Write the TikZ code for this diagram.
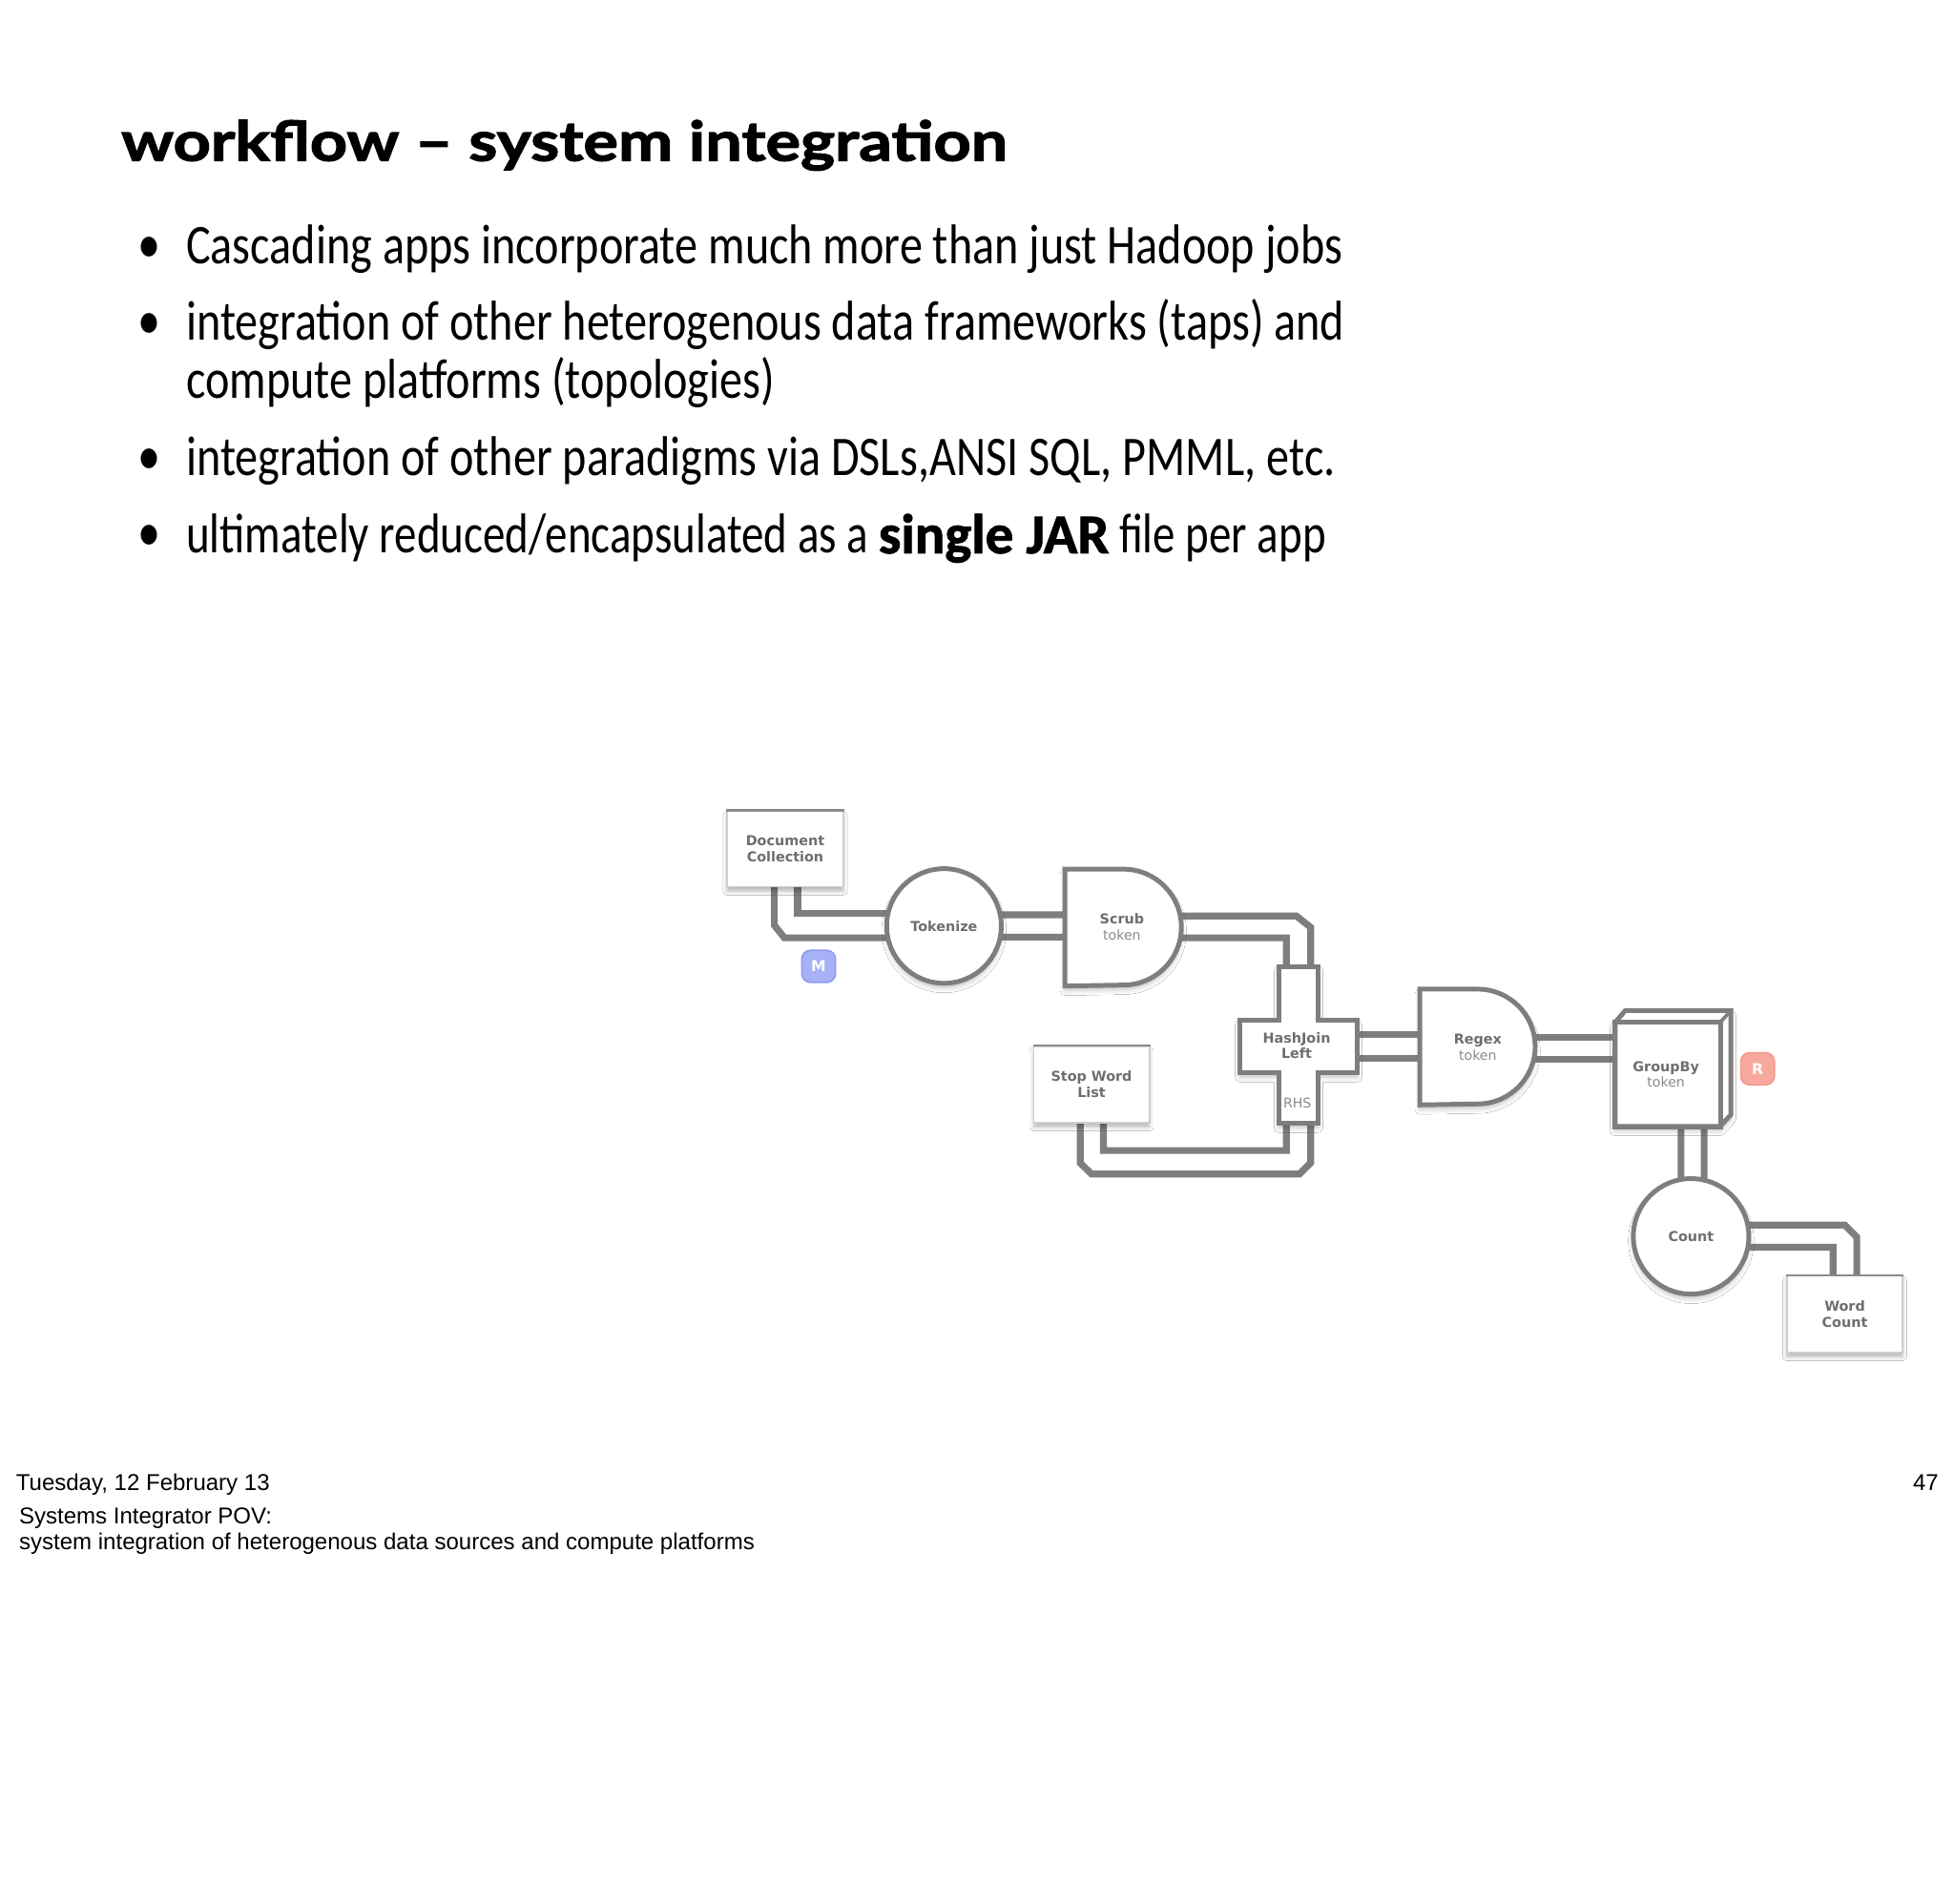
\documentclass[tikz,border=0pt]{standalone}
\usepackage{fontspec}
\setmainfont{Carlito}
\newfontfamily\bodyfont{Carlito}[FakeStretch=0.82]
\newfontfamily\bodyfontn{Carlito}[FakeStretch=0.80]
\newfontfamily\heavyfont{Carlito}[BoldFeatures={FakeBold=1.5}]
\newfontfamily\titlefont{Lato}[BoldFeatures={FakeBold=2.2,FakeStretch=1.19}]
\newfontfamily\dfont{DejaVu Sans}
\newfontfamily\footfont{Liberation Sans}
\usetikzlibrary{calc,backgrounds,shadows.blur}
\definecolor{pipegray}{HTML}{7E7E7E}
\definecolor{labgray}{HTML}{6E6E6E}
\definecolor{tokgray}{HTML}{8A8A8A}
\definecolor{boxedge}{HTML}{CDCDCD}
\definecolor{boxtop}{HTML}{8C8C8C}
\definecolor{mfill}{HTML}{A7B1F6}
\definecolor{medge}{HTML}{8E9AEF}
\definecolor{rfill}{HTML}{F8A99D}
\definecolor{redge}{HTML}{F29A8C}
\begin{document}
\begin{tikzpicture}[x=0.5pt,y=0.5pt,
  pipe/.style={draw=pipegray,line width=2.75pt},
  shsh/.style={blur shadow={shadow xshift=0pt,shadow yshift=-1.8pt,shadow blur radius=2pt,shadow opacity=24}},
  shp/.style={draw=pipegray,line width=1.9pt,fill=white,shsh},
  lbl/.style={font=\dfont\bfseries\fontsize{5.5}{6.3}\selectfont,text=labgray,align=center,inner sep=0pt},
  iobox/.style={rectangle,draw=boxedge,line width=0.6pt,fill=white,lbl,
    blur shadow={shadow xshift=0pt,shadow yshift=-1.8pt,shadow blur radius=1.6pt,shadow opacity=28}},
  badge/.style={rectangle,rounded corners=3.5pt,line width=0.6pt,minimum width=13.5pt,minimum height=12.9pt,inner sep=0pt,
    text=white,font=\dfont\bfseries\fontsize{6}{7}\selectfont},
  txt/.style={anchor=base west,inner sep=0pt,font=\bodyfont\fontsize{22.5}{27}\selectfont},
  bul/.style={anchor=base,inner sep=0pt,font=\bodyfont\fontsize{22.5}{27}\selectfont},
  foot/.style={inner sep=0pt,font=\footfont\fontsize{9.2}{11}\selectfont}
]
\useasboundingbox (0,0) rectangle (1568,-1528);

% ---------- text ----------
\node[anchor=base west,inner sep=0pt,font=\titlefont\bfseries\fontsize{22}{26}\selectfont] (title) at (97,-129) {workflow – system integration};
\node[bul] (d1) at (120,-211) {•};
\node[txt] (t1) at (149,-212) {Cascading apps incorporate much more than just Hadoop jobs};
\node[bul] (d2) at (120,-272) {•};
\node[txt] (t2) at (149,-273) {integration of other heterogenous data frameworks (taps) and};
\node[txt] (t2b) at (149,-320) {compute platforms (topologies)};
\node[bul] (d3) at (120,-381) {•};
\node[txt] (t3) at (149,-382) {integration of other paradigms via DSLs,ANSI SQL, PMML, etc.};
\node[bul] (d4) at (120,-442) {•};
\node[txt,font=\bodyfontn\fontsize{22.5}{27}\selectfont] (t4) at (149,-444) {ultimately reduced/encapsulated as a {\heavyfont\bfseries single JAR} file per app};

\node[foot,anchor=base west] (date) at (12.5,-1196) {Tuesday, 12 February 13};
\node[foot,anchor=base east] (pnum) at (1556,-1196) {47};
\node[foot,anchor=base west] (n1) at (15,-1223) {Systems Integrator POV:};
\node[foot,anchor=base west] (n2) at (15,-1244) {system integration of heterogenous data sources and compute platforms};

% ---------- diagram nodes ----------
\node[iobox,minimum width=46.7pt,minimum height=30.3pt] (doc) at (630.1,-681.4) {Document\\Collection};
\draw[boxtop,line width=0.9pt] (doc.north west) -- (doc.north east);
\node[iobox,minimum width=46.5pt,minimum height=30.65pt] (stop) at (875.9,-870.35) {Stop Word\\List};
\draw[boxtop,line width=0.9pt] (stop.north west) -- (stop.north east);
\node[iobox,minimum width=46.45pt,minimum height=30.75pt] (wc) at (1480.35,-1054.75) {Word\\Count};
\draw[boxtop,line width=0.9pt] (wc.north west) -- (wc.north east);

\node[shp,circle,minimum size=46pt,lbl] (tok) at (757.5,-743.2) {Tokenize};
\node[shp,circle,minimum size=46.35pt,lbl] (cnt) at (1357,-992.3) {Count};

% Scrub (D shape)
\node[rectangle,minimum width=46.5pt,minimum height=46.5pt,inner sep=0pt] (scrub) at (901.5,-744.5) {};
\draw[shp] (scrub.north west) -- (scrub.north) arc[start angle=90,end angle=-90,radius=23.25pt] -- (scrub.south west) -- cycle;
\node[lbl] (scrubt) at (900.3,-744) {Scrub\\{\dfont\mdseries\fontsize{5.4}{6.3}\selectfont\textcolor{tokgray}{token}}};

% HashJoin (cross)
\node[rectangle,minimum width=47pt,minimum height=21.05pt,inner sep=0pt] (hj) at (1042,-839.85) {};
\draw[shp] (1026.3,-775.8) -- (1057.7,-775.8) -- (1057.7,-818.8) -- (1089,-818.8) -- (1089,-860.9) -- (1057.7,-860.9)
  -- (1057.7,-901.5) -- (1026.3,-901.5) -- (1026.3,-860.9) -- (995,-860.9) -- (995,-818.8) -- (1026.3,-818.8) -- cycle;
\node[lbl] (hjt) at (1040.5,-839.2) {HashJoin\\Left};
\node[lbl,font=\dfont\mdseries\fontsize{5.4}{6.3}\selectfont,text=tokgray] (rhs) at (1041,-885.7) {RHS};

% Regex (D shape)
\node[rectangle,minimum width=46.05pt,minimum height=46.05pt,inner sep=0pt] (regex) at (1185.85,-840.35) {};
\draw[shp] (regex.north west) -- (regex.north) arc[start angle=90,end angle=-90,radius=23.025pt] -- (regex.south west) -- cycle;
\node[lbl] (regext) at (1185.8,-840.7) {Regex\\{\dfont\mdseries\fontsize{5.4}{6.3}\selectfont\textcolor{tokgray}{token}}};

% GroupBy (box)
\node[rectangle,minimum width=42.1pt,minimum height=41.7pt,inner sep=0pt] (grp) at (1338.2,-862.3) {};
\draw[shp] (1296.1,-820.6) -- (1304.2,-811.1) -- (1389,-811.1) -- (1389,-894.6) -- (1380.3,-904) -- (1296.1,-904) -- cycle;
\draw[draw=pipegray,line width=1.4pt,line join=round] (1296.1,-820.6) -- (1380.3,-820.6) -- (1389,-811.1);
\draw[draw=pipegray,line width=1.4pt] (1380.3,-820.6) -- (1380.3,-904);
\draw[draw=pipegray,line width=1.9pt] (grp.north west) rectangle (grp.south east);
\node[lbl] (grpt) at (1336.9,-862.2) {GroupBy\\{\dfont\mdseries\fontsize{5.4}{6.3}\selectfont\textcolor{tokgray}{token}}};

% badges
\node[badge,fill=mfill,draw=medge] (bm) at (656.9,-775.6) {M};
\node[badge,fill=rfill,draw=redge] (br) at (1410.4,-857.8) {R};

% ---------- pipes ----------
\begin{pgfonlayer}{background}
\fill[white] (0,0) rectangle (1568,-1528);
% Document Collection -> Tokenize
\draw[pipe] ($(doc.south)+(-8.7,1)$) -- (621.4,-742.6) -- (629.4,-752.7) -- ($(tok.center)+(0,-9.5)$);
\draw[pipe] ($(doc.south)+(9.9,1)$) -- (640,-733.3) -- ($(tok.center)+(0,9.9)$);
% Tokenize -> Scrub
\draw[pipe] ($(tok.center)+(0,9.0)$) -- ($(scrub.center)+(0,10.3)$);
\draw[pipe] ($(tok.center)+(0,-8.9)$) -- ($(scrub.center)+(0,-7.6)$);
% Scrub -> HashJoin
\draw[pipe] ($(scrub.center)+(0,9.3)$) -- (1040.3,-735.2) -- (1051.7,-744.2) -- ($(hj.center)+(9.7,0)$);
\draw[pipe] ($(scrub.center)+(0,-8.2)$) -- (1032.3,-752.7) -- ($(hj.center)+(-9.7,0)$);
% Stop Word List -> HashJoin (RHS)
\draw[pipe] ($(stop.south)+(9.6,1)$) -- (885.5,-923.4) -- (1032.3,-923.4) -- ($(hj.center)+(-9.7,0)$);
\draw[pipe] ($(stop.south)+(-9,1)$) -- (866.9,-933.5) -- (875.9,-942.3) -- (1042.7,-942.3) -- (1051.7,-933.3) -- ($(hj.center)+(9.7,0)$);
% HashJoin -> Regex
\draw[pipe] ($(hj.center)+(0,9.55)$) -- ($(regex.center)+(0,10.05)$);
\draw[pipe] ($(hj.center)+(0,-9.35)$) -- ($(regex.center)+(0,-8.85)$);
% Regex -> GroupBy
\draw[pipe] ($(regex.center)+(0,7.75)$) -- ($(grp.center)+(0,29.7)$);
\draw[pipe] ($(regex.center)+(0,-9.55)$) -- ($(grp.center)+(0,12.4)$);
% GroupBy -> Count
\draw[pipe] ($(grp.center)+(10.7,0)$) -- ($(cnt.center)+(-8.1,0)$);
\draw[pipe] ($(grp.center)+(29.3,0)$) -- ($(cnt.center)+(10.5,0)$);
% Count -> Word Count
\draw[pipe] ($(cnt.center)+(0,9.1)$) -- (1480.3,-983.2) -- (1490,-992.9) -- ($(wc.north)+(9.65,-1)$);
\draw[pipe] ($(cnt.center)+(0,-8.7)$) -- (1470.9,-1001) -- ($(wc.north)+(-9.45,-1)$);
\end{pgfonlayer}
\end{tikzpicture}
\end{document}
